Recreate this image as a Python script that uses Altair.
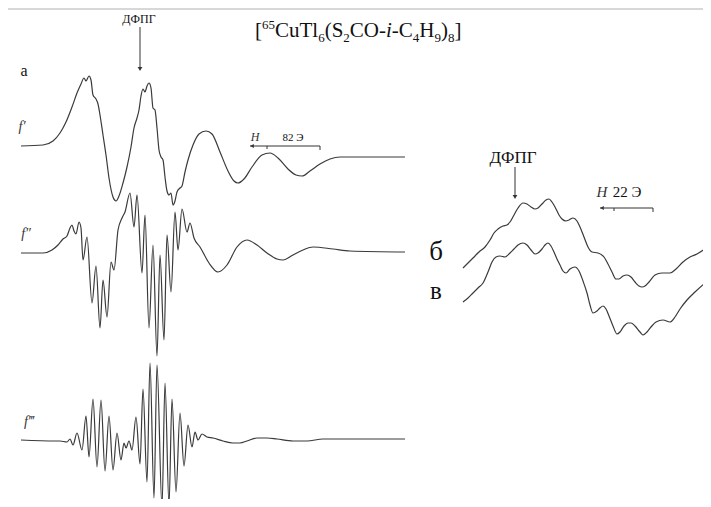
import altair as alt
import pandas as pd

# ---------------- data (pixel-like field/intensity units) -------------
fp_x = [21, 43, 53, 60, 66, 72, 77, 81, 84, 86, 89, 91, 93, 96, 98, 100, 103, 106, 109, 113, 116, 119,
        123, 127, 131, 134, 137, 139, 141, 143, 145, 147, 149, 151, 153, 155, 157, 159, 161, 163, 165,
        167, 169, 171, 173, 175, 177, 180, 182, 185, 188, 193, 199, 206, 212, 220, 228, 234, 238, 244,
        252, 262, 270, 278, 288, 296, 302, 310, 320, 330, 340, 360, 405]
fp_y = [146, 145, 141, 133, 122, 107, 93, 84, 78, 81, 76, 80, 95, 99, 104, 115, 135, 155, 178, 197, 201,
        196, 183, 167, 147, 128, 118, 110, 96, 89, 92, 86, 83, 88, 108, 110, 128, 150, 157, 160, 177,
        191, 195, 193, 205, 201, 192, 188, 186, 172, 160, 145, 134, 131, 134, 152, 171, 181, 183, 179,
        167, 155, 153, 158, 169, 175, 176, 171, 164, 159, 157, 157, 157]

fpp_x = [21, 43, 52, 58, 63, 67, 70, 72, 74, 76, 79, 81, 83, 87, 92, 96, 100, 103, 107, 111, 114, 118,
         122, 125, 130, 134, 137, 142, 145, 149, 153, 157, 160, 164, 167, 171, 175, 178, 182, 187, 190,
         194, 200, 209, 218, 227, 237, 247, 257, 267, 277, 283, 293, 303, 313, 333, 350, 405]
fpp_y = [253, 253, 250, 245, 239, 236, 228, 225, 231, 234, 222, 228, 260, 237, 303, 266, 328, 280, 317,
         262, 270, 230, 218, 212, 193, 227, 195, 273, 215, 328, 245, 356, 255, 340, 235, 292, 212, 250,
         209, 232, 223, 238, 247, 263, 272, 265, 247, 240, 245, 253, 259, 260, 255, 250, 247, 249, 251,
         252]

fppp_x = [21, 55, 60, 67, 70, 73, 77, 82, 86, 89, 93, 97, 101, 105, 109, 113, 117, 121, 124, 126, 129,
          132, 136, 140, 143, 147, 150, 154, 157, 162, 165, 169, 172, 176, 180, 184, 188, 192, 195, 198,
          202, 207, 213, 223, 233, 240, 247, 257, 267, 277, 293, 307, 323, 405]
fppp_y = [440, 441, 441, 442, 439, 445, 433, 450, 416, 457, 399, 467, 400, 471, 416, 470, 433, 460, 443,
          448, 441, 450, 417, 464, 389, 482, 363, 498, 365, 507, 383, 505, 399, 492, 413, 466, 425, 447,
          432, 440, 434, 437, 438, 441, 443, 443, 441, 438, 438, 439, 441, 441, 439, 439]

b_x = [463, 468, 473, 479, 485, 490, 494, 498, 503, 507, 510, 514, 518, 523, 527, 531, 535, 538, 542,
       546, 549, 552, 555, 559, 562, 566, 569, 573, 577, 580, 584, 588, 592, 598, 604, 608, 612, 616,
       619, 623, 627, 631, 635, 639, 642, 645, 649, 655, 662, 670, 676, 683, 690, 697, 705]
b_y = [268, 263, 258, 252, 247, 240, 233, 229, 226, 225, 222, 215, 208, 203, 204, 207, 209, 208, 204,
       200, 199, 202, 207, 215, 219, 221, 220, 218, 221, 227, 237, 247, 252, 253, 257, 264, 272, 279,
       279, 276, 275, 277, 282, 286, 287, 286, 282, 275, 273, 273, 269, 262, 257, 254, 249]

v_x = [463, 468, 473, 478, 483, 488, 492, 496, 500, 505, 510, 514, 518, 523, 527, 531, 535, 538, 542,
       545, 548, 551, 554, 557, 560, 563, 566, 570, 575, 579, 583, 587, 590, 593, 597, 600, 603, 606,
       609, 613, 617, 620, 624, 628, 631, 635, 640, 643, 647, 651, 656, 663, 670, 675, 680, 687, 695, 705]
v_y = [302, 298, 293, 288, 283, 272, 262, 257, 256, 257, 253, 249, 245, 243, 245, 250, 254, 253, 249,
       245, 243, 246, 252, 259, 265, 271, 273, 269, 267, 271, 281, 293, 305, 313, 311, 308, 306, 309,
       316, 326, 334, 332, 326, 323, 323, 326, 332, 335, 332, 327, 322, 320, 322, 317, 309, 300, 292, 283]

# annotation texts
title_parts = ["[", "65", "CuTl", "6", "(S", "2", "CO-", "i", "-C", "4", "H", "9", ")", "8", "]"]
title_kinds = ["m", "sup", "m", "sub", "m", "sub", "m", "it", "m", "sub", "m", "sub", "m", "sub", "m"]
labels_serif = ["ДФПГ", "а", "82 Э", "ДФПГ", "22 Э", "б", "в"]
labels_x = [139, 24, 293, 513, 627, 436, 436]
labels_y = [23, 76, 141, 163, 197, 260, 299]
labels_size = [12, 16, 11, 17, 15, 27, 25]
ital_labels = ["f′", "f″", "f‴", "H", "H"]
ital_x = [22, 26, 29, 255, 602]
ital_y = [131, 238, 426, 141, 197]
ital_size = [14, 14, 14, 12, 15]

# arrows and scale bars: (x, y, x2, y2)
rule_x = [140, 250, 267, 320, 515, 600, 614, 653, 8]
rule_y = [27, 146, 146, 146, 167, 208, 208, 208, 9]
rule_x2 = [140, 320, 267, 320, 515, 653, 614, 653, 703]
rule_y2 = [68, 146, 149, 150, 196, 208, 211, 212, 9]
head_x = [140, 515]
head_y = [69, 197]
lhead_x = [252, 602]
lhead_y = [146, 208]

# ---------------- chart ----------------
xs = alt.Scale(domain=[8, 703], nice=False, zero=False)
ys = alt.Scale(domain=[8, 499], nice=False, zero=False, reverse=True)
X = lambda f="x": alt.X(f"{f}:Q", scale=xs, axis=None)
Y = lambda f="y": alt.Y(f"{f}:Q", scale=ys, axis=None)

rows = []
for name, xx, yy in [("f1", fp_x, fp_y), ("f2", fpp_x, fpp_y), ("f3", fppp_x, fppp_y),
                     ("b", b_x, b_y), ("v", v_x, v_y)]:
    for i, (a, b) in enumerate(zip(xx, yy)):
        rows.append({"s": name, "i": i, "x": a, "y": b})
curves = pd.DataFrame(rows)

lines = alt.Chart(curves).mark_line(interpolate="monotone", strokeWidth=1.2, color="#3a3a3a",
                                     clip=False).encode(
    x=X(), y=Y(), detail="s:N", order="i:Q")

rules_df = pd.DataFrame({"x": rule_x, "y": rule_y, "x2": rule_x2, "y2": rule_y2,
                         "c": ["#333"] * 8 + ["#b0b0b0"]})
rules = alt.Chart(rules_df).mark_rule(strokeWidth=1).encode(
    x=X(), y=Y(), x2="x2:Q", y2="y2:Q", color=alt.Color("c:N", scale=None))

heads = alt.Chart(pd.DataFrame({"x": head_x, "y": head_y})).mark_point(
    shape="triangle-down", filled=True, size=22, color="#333", opacity=1).encode(x=X(), y=Y())
lheads = alt.Chart(pd.DataFrame({"x": lhead_x, "y": lhead_y})).mark_point(
    shape="triangle-left", filled=True, size=18, color="#333", opacity=1).encode(x=X(), y=Y())

# title with sub/superscripts, laid out left to right
wid = {"[": .333, "]": .333, "(": .333, ")": .333, "C": .667, "u": .5, "T": .611, "l": .278,
       "S": .556, "O": .722, "-": .333, "i": .278, "H": .722}
MAIN, SMALL, BASE = 21, 13, 37
cx = 255.0
trows = []
for t, k in zip(title_parts, title_kinds):
    size = SMALL if k in ("sub", "sup") else MAIN
    yb = BASE + 5 if k == "sub" else (BASE - 8 if k == "sup" else BASE)
    trows.append({"t": t, "x": cx, "y": yb, "size": size, "it": k == "it"})
    cx += sum(wid.get(ch, .5) for ch in t) * size
tdf = pd.DataFrame(trows)
title_up = alt.Chart(tdf[~tdf.it]).mark_text(align="left", baseline="alphabetic",
                                             font="Liberation Serif", color="#111").encode(
    x=X(), y=Y(), text="t:N", size=alt.Size("size:Q", scale=None))
title_it = alt.Chart(tdf[tdf.it]).mark_text(align="left", baseline="alphabetic", fontStyle="italic",
                                            font="Liberation Serif", color="#111").encode(
    x=X(), y=Y(), text="t:N", size=alt.Size("size:Q", scale=None))

lab = alt.Chart(pd.DataFrame({"t": labels_serif, "x": labels_x, "y": labels_y, "size": labels_size})
                ).mark_text(align="center", baseline="alphabetic", font="Liberation Serif",
                            color="#111").encode(
    x=X(), y=Y(), text="t:N", size=alt.Size("size:Q", scale=None))
ilab = alt.Chart(pd.DataFrame({"t": ital_labels, "x": ital_x, "y": ital_y, "size": ital_size})
                 ).mark_text(align="center", baseline="alphabetic", font="Liberation Serif",
                             fontStyle="italic", color="#333").encode(
    x=X(), y=Y(), text="t:N", size=alt.Size("size:Q", scale=None))

chart = alt.layer(rules, lines, heads, lheads, title_up, title_it, lab, ilab).properties(
    width=695, height=491, padding=0, autosize=alt.AutoSizeParams(type="none")
).configure_view(stroke=None)

chart.save("out.html", embed_options={"renderer": "svg", "actions": False})
